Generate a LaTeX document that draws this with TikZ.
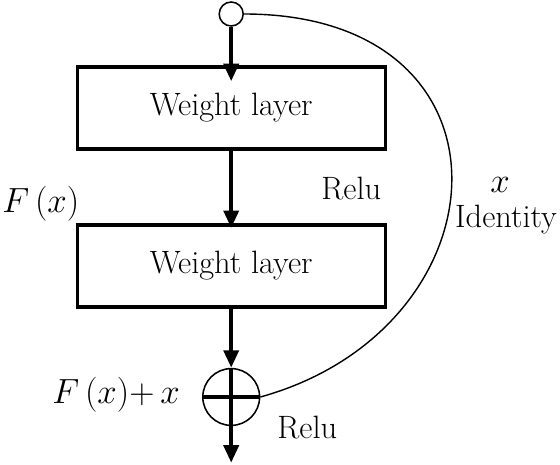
\documentclass[tikz,border=0pt]{standalone}
\usepackage{amsmath}
\usepackage{tikz}
\usetikzlibrary{positioning, arrows.meta}

\begin{document}
\begin{tikzpicture}[
  layer/.style={draw, line width=2.4pt, minimum width=7.7cm, minimum height=2.05cm},
  ring/.style={circle, draw, line width=1.1pt, inner sep=0pt},
  flow/.style={line width=3pt, -{Triangle[length=12.5pt,width=10.5pt]}},
  tag/.style={inner sep=0pt},
  font=\fontsize{23}{27.6}\selectfont]
\useasboundingbox (0,0) rectangle (14,11.6);
% nodes
\node[ring, minimum size=0.6cm] (in) at (5.78,11.25) {};
\node[layer] (w1) at (5.78,8.9) {Weight layer};
\node[layer] (w2) at (5.78,4.95) {Weight layer};
\node[ring, minimum size=1.42cm] (sum) at (5.78,1.675) {};
\coordinate (out) at (5.78,0.03);
% edges
\draw[flow, shorten >=-0.4cm] (in) -- (w1);
\draw[flow, shorten >=-0.12cm] (w1) -- (w2);
\draw[flow] (w2) -- (sum);
\draw[flow] (sum.north) -- (out);
\draw[line width=3pt] (sum.west) -- (sum.east);
% shortcut
\draw[line width=1pt] (in.east) .. controls +(7.1,0) and +(6.21,1.725) .. (sum.east);
% labels
\node[tag, anchor=base west] (relu1) at (8.03,6.6) {Relu};
\node[tag, anchor=base west] (fx) at (0.05,6.275) {$F\,(x)$};
\node[tag, anchor=base] (xid) at (12.5,6.78) {$x$};
\node[tag, anchor=base] (ident) at (12.65,5.9) {Identity};
\node[tag, anchor=base west] (fsum) at (1.3,1.525) {$F\,(x){+}\,x$};
\node[tag, anchor=base west] (relu2) at (6.93,0.65) {Relu};
\end{tikzpicture}
\end{document}
